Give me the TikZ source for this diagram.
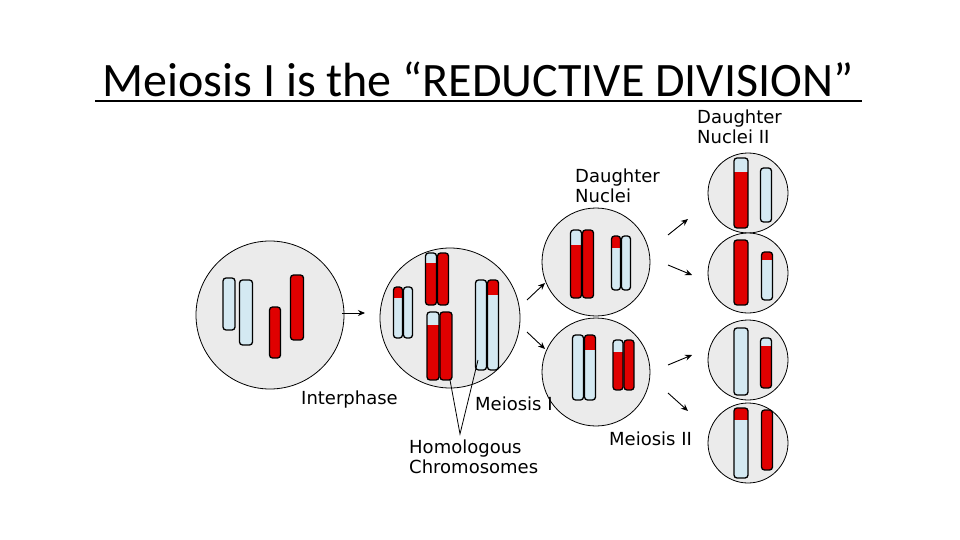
\documentclass[tikz,border=0pt]{standalone}
\usepackage{fontspec}
\setmainfont{DejaVu Sans}
\newfontfamily\titlefont{Carlito}
\usetikzlibrary{arrows.meta}
\definecolor{cred}{HTML}{E00000}
\definecolor{cblue}{HTML}{D4E9F2}
\definecolor{cgray}{HTML}{EBEBEB}
% chromatid: x, ytop, ybot, width, topcolor, bottomcolor, ysplit
\newcommand\chr[7]{%
  \begin{scope}
    \clip[rounded corners=3] ({#1-#4/2},#2) rectangle ({#1+#4/2},#3);
    \fill[#5] ({#1-#4/2},#2) rectangle ({#1+#4/2},#7);
    \fill[#6] ({#1-#4/2},#7) rectangle ({#1+#4/2},#3);
  \end{scope}
  \draw[line width=1.3,rounded corners=3] ({#1-#4/2},#2) rectangle ({#1+#4/2},#3);}
\tikzset{cell/.style={circle,draw,fill=cgray,line width=0.8,inner sep=0,outer sep=0},
  lbl/.style={anchor=north west,align=left,font=\fontsize{18}{20}\selectfont,inner sep=0},
  arr/.style={-{Stealth[length=7,width=6]},line width=0.9}}
\begin{document}
\begin{tikzpicture}[x=1pt,y=-1pt]
\useasboundingbox (0,0) rectangle (960,540);
\node[font=\titlefont\fontsize{48}{52}\selectfont,anchor=base] (title) at (478,97) {Meiosis I is the “REDUCTIVE DIVISION”};
\draw[line width=1.5] (95,101) -- (862,101);
% cells
\node[cell,minimum size=148] (inter) at (270,315) {};
\node[cell,minimum size=140] (mei) at (450,318) {};
\node[cell,minimum size=108] (d1) at (596,262) {};
\node[cell,minimum size=108] (d2) at (596,372) {};
\node[cell,minimum size=80] (e1) at (748,193) {};
\node[cell,minimum size=80] (e2) at (748,273) {};
\node[cell,minimum size=80] (e3) at (748,360) {};
\node[cell,minimum size=80] (e4) at (748,443) {};
% interphase
\chr{229}{278}{330}{12}{cblue}{cblue}{300}
\chr{246}{280}{345}{13}{cblue}{cblue}{300}
\chr{275}{307}{358}{11}{cred}{cred}{330}
\chr{297}{275}{340}{13}{cred}{cred}{300}
% meiosis I
\chr{398}{287}{338}{9}{cred}{cblue}{298}\chr{408}{287}{338}{9}{cblue}{cblue}{298}
\chr{431}{253}{305}{11}{cblue}{cred}{263}\chr{443}{253}{305}{11}{cred}{cred}{263}
\chr{433}{312}{380}{12}{cblue}{cred}{325}\chr{446}{312}{380}{12}{cred}{cred}{325}
\chr{481}{280}{370}{11}{cblue}{cblue}{295}\chr{493}{280}{370}{11}{cred}{cblue}{295}
% daughters
\chr{576}{230}{298}{11}{cblue}{cred}{245}\chr{588}{230}{298}{11}{cred}{cred}{245}
\chr{616}{236}{290}{9}{cred}{cblue}{248}\chr{626}{236}{290}{9}{cblue}{cblue}{248}
\chr{578}{335}{400}{11}{cblue}{cblue}{350}\chr{590}{335}{400}{11}{cred}{cblue}{350}
\chr{618}{340}{390}{10}{cblue}{cred}{352}\chr{629}{340}{390}{10}{cred}{cred}{352}
% meiosis II
\chr{741}{158}{228}{14}{cblue}{cred}{172}
\chr{766}{168}{222}{11}{cblue}{cblue}{180}
\chr{741}{240}{305}{14}{cred}{cred}{260}
\chr{767}{252}{300}{11}{cred}{cblue}{260}
\chr{741}{328}{395}{14}{cblue}{cblue}{340}
\chr{766}{338}{388}{11}{cblue}{cred}{346}
\chr{741}{408}{478}{14}{cred}{cblue}{420}
\chr{767}{410}{470}{11}{cred}{cred}{420}
% arrows
\draw[arr] ([xshift=-2]inter.east) ++(0,-2) -- ++(23,0);
\draw[arr] ([shift={(7,-18)}]mei.east) -- ++(18,-17);
\draw[arr] ([shift={(7,14)}]mei.east) -- ++(18,17);
\draw[arr] ([shift={(18,-27)}]d1.east) -- ++(20,-16);
\draw[arr] ([shift={(18,3)}]d1.east) -- ++(24,10);
\draw[arr] ([shift={(18,-7)}]d2.east) -- ++(24,-10);
\draw[arr] ([shift={(18,21)}]d2.east) -- ++(20,18);
% labels
\node[lbl] (l1) at (697,110) {Daughter\\Nuclei II};
\node[lbl] (l2) at (575,169) {Daughter\\Nuclei};
\node[lbl] (l3) at (301,391) {Interphase};
\node[lbl] (l4) at (475,397) {Meiosis I};
\node[lbl] (l5) at (609,432) {Meiosis II};
\node[lbl] (l6) at (409,440) {Homologous\\Chromosomes};
\coordinate (hp) at (460,434);
\coordinate (hc1) at (450,380);
\coordinate (hc2) at (478,360);
\draw[line width=0.8] (hc1) -- (hp) -- (hc2);
\end{tikzpicture}
\end{document}
